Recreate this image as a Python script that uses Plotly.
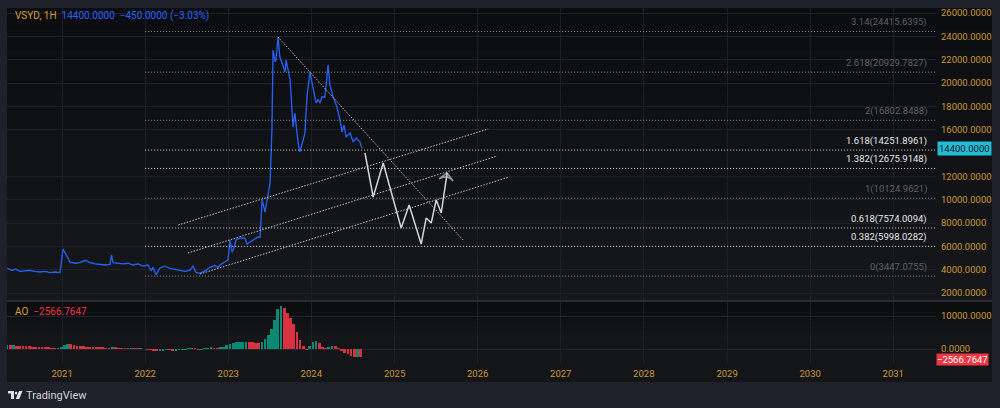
import plotly.graph_objects as go
import pandas as pd

W, H = 1000, 408
def px(x): return x / W
def py(y): return 1 - y / H

# ---------------- data ----------------
symbol = "VSYD, 1H"
last_price = 14400.0
change_abs = -450.0
change_pct = -3.03
ao_last = -2566.7647

price_dates = [
    "2020-05-04", "2020-05-25", "2020-06-12", "2020-06-30", "2020-07-22", "2020-08-13",
    "2020-09-04", "2020-09-26", "2020-10-18", "2020-11-09", "2020-12-01", "2020-12-23",
    "2021-01-05", "2021-01-18", "2021-02-05", "2021-02-27", "2021-03-21", "2021-04-12",
    "2021-05-04", "2021-05-26", "2021-06-17", "2021-07-09", "2021-07-31", "2021-08-06",
    "2021-08-13", "2021-09-04", "2021-09-26", "2021-10-18", "2021-11-09", "2021-12-01",
    "2021-12-23", "2022-01-14", "2022-01-27", "2022-02-05", "2022-02-18", "2022-03-07",
    "2022-03-29", "2022-04-21", "2022-05-12", "2022-06-03", "2022-06-25", "2022-07-17",
    "2022-07-30", "2022-08-13", "2022-08-30", "2022-09-21", "2022-10-13", "2022-11-04",
    "2022-11-17", "2022-11-26", "2022-12-18", "2022-12-31", "2023-01-09", "2023-01-18",
    "2023-01-27", "2023-02-04", "2023-02-22", "2023-03-16", "2023-03-24", "2023-04-07",
    "2023-04-29", "2023-05-12", "2023-05-21", "2023-05-30", "2023-06-12", "2023-06-25",
    "2023-07-04", "2023-07-12", "2023-07-17", "2023-07-26", "2023-07-30", "2023-08-08",
    "2023-08-16", "2023-09-08", "2023-09-12", "2023-09-30", "2023-10-08", "2023-10-13",
    "2023-10-21", "2023-11-04", "2023-11-12", "2023-11-26", "2023-12-04", "2023-12-13",
    "2023-12-26", "2024-01-08", "2024-01-22", "2024-01-31", "2024-02-08", "2024-02-17",
    "2024-03-01", "2024-03-15", "2024-03-23", "2024-04-06", "2024-04-23", "2024-05-06",
    "2024-05-15", "2024-05-24", "2024-06-02", "2024-06-20", "2024-07-03", "2024-07-16",
    "2024-08-02", "2024-08-11",
]
price_values = [
    4140, 3950, 4050, 3850, 3900, 3950,
    3850, 3800, 3850, 3750, 3800, 3750,
    5770, 5300, 4650, 4550, 4600, 4800,
    4600, 4500, 4450, 4400, 4450, 5260,
    4600, 4550, 4500, 4550, 4400, 4500,
    4300, 4400, 3900, 4200, 3550, 4150,
    4300, 4100, 4000, 3950, 3850, 3950,
    4300, 3750, 3710, 3900, 4200, 4350,
    4200, 4400, 4700, 4830, 6540, 5500,
    5900, 6540, 6700, 6700, 6200, 6370,
    6700, 6800, 6800, 9970, 8940, 10230,
    11430, 15970, 22830, 21800, 21970, 23940,
    22230, 20940, 21970, 20260, 17000, 16230,
    17430, 14860, 14090, 15000, 15710, 18800,
    20940, 19660, 18290, 18600, 18290, 18800,
    18800, 21540, 19830, 18800, 17940, 16830,
    15800, 16400, 15370, 15710, 14940, 15280,
    14940, 14400,
]

# hand-drawn projection (zig-zag path with arrow)
proj_dates = ["2024-08-24", "2024-09-29", "2024-11-12", "2025-01-30", "2025-03-06",
              "2025-04-28", "2025-05-20", "2025-06-11", "2025-07-03", "2025-07-25", "2025-08-20"]
proj_values = [14000, 10230, 13140, 7570, 9540, 6200, 8430, 8000, 9970, 8860, 12290]

# trend lines
down_dates = ["2023-08-08", "2025-10-29"]
down_values = [23940, 6540]
chan_upper_dates = ["2022-05-26", "2026-02-16"]
chan_upper_values = [7826, 16056]
chan_mid_dates = ["2022-07-08", "2026-03-28"]
chan_mid_values = [5426, 13741]
chan_low_dates = ["2022-08-30", "2026-05-19"]
chan_low_values = [3625, 11941]

# Fibonacci extension levels
fib_ratios = ["3.14", "2.618", "2", "1.618", "1.382", "1", "0.618", "0.382", "0"]
fib_prices = [24415.6395, 20929.7827, 16802.8488, 14251.8961, 12675.9148,
              10124.9621, 7574.0094, 5998.0282, 3447.0755]
fib_bright = [False, False, False, True, True, False, True, True, False]
fib_start = "2022-01-01"

# Awesome Oscillator (bi-weekly bars)
ao_start = "2020-05-04"
ao_values = [
    1200, 1150, 1200, 1050, 1000, 950, 900, 800, 750, 700,
    600, 550, 450, 400, 300, 250, 300, 700, 1300, 1600,
    1400, 1100, 900, 850, 800, 750, 700, 600, 500, 450,
    350, 300, 250, 400, 350, 300, 250, 200, 150, 150,
    100, 50, 50, 0, -100, -250, -450, -650, -600, -350,
    -200, -250, -400, -350, -200, -150, -50, 50, 100, 50,
    -100, -50, 100, 250, 350, 300, 250, 400, 700, 1100,
    1500, 1800, 2000, 2100, 2200, 2200, 2100, 2000, 1800, 1700,
    2200, 3000, 4200, 6000, 8800, 12000, 13000, 12300, 11000, 9300,
    7500, 5200, 2800, 900, -200, 800, 2000, 2500, 1800, 700,
    100, 600, 1000, 900, 300, -400, -1100, -1600, -2000, -2400,
    -2300, -2567,
]

x_range = ["2020-05-04", "2031-07-08"]
# 14000 sits under the last-price badge, so it is not drawn as a tick
y_ticks = [v for v in range(2000, 26001, 2000) if v != 14000]
ao_ticks = [0, 10000]

# ---------------- styles ----------------
FONT = "Roboto, 'Open Sans', sans-serif"
GOLD = "#c9993c"
GRID = "#1d2027"
BLUE = "#2962ff"
GREEN = "#0a8a74"
RED = "#d8313f"

fig = go.Figure()

# price
fig.add_trace(go.Scatter(x=price_dates, y=price_values, mode="lines",
                         line=dict(color=BLUE, width=1.3), xaxis="x", yaxis="y",
                         hoverinfo="skip", showlegend=False))

# fib lines
for r, p, b in zip(fib_ratios, fib_prices, fib_bright):
    fig.add_trace(go.Scatter(x=[fib_start, x_range[1]], y=[p, p], mode="lines",
                             line=dict(color="#d1d4dc" if b else "#8a8d96", width=1, dash="1px,2px"),
                             xaxis="x", yaxis="y", hoverinfo="skip", showlegend=False))
    fig.add_annotation(x=px(929), xref="paper", y=p, yref="y", xanchor="right", yanchor="bottom",
                       yshift=1, showarrow=False, text=f"{r}({p:.4f})",
                       font=dict(family=FONT, size=9.5, color="#e6e8ec" if b else "#5d606b"))

# trend lines
for dts, vals, col in [(down_dates, down_values, "#b8bbc4"),
                       (chan_upper_dates, chan_upper_values, "#c0c3cc"),
                       (chan_mid_dates, chan_mid_values, "#c0c3cc"),
                       (chan_low_dates, chan_low_values, "#c0c3cc")]:
    fig.add_trace(go.Scatter(x=dts, y=vals, mode="lines",
                             line=dict(color=col, width=1, dash="1.5px,1.5px"),
                             xaxis="x", yaxis="y", hoverinfo="skip", showlegend=False))

# projection with open arrow head on the last point
fig.add_trace(go.Scatter(x=proj_dates, y=proj_values, mode="lines+markers",
                         line=dict(color="#d1d4dc", width=1.5),
                         marker=dict(symbol="arrow-wide-open", angleref="previous",
                                     size=[0] * (len(proj_values) - 1) + [10],
                                     color="#d1d4dc", line=dict(color="#d1d4dc", width=1.5)),
                         xaxis="x", yaxis="y", hoverinfo="skip", showlegend=False))

# AO bars
ao_dates = pd.date_range(ao_start, periods=len(ao_values), freq="14D")
ao_colors = [GREEN if (i == 0 or v >= ao_values[i - 1]) else RED for i, v in enumerate(ao_values)]
fig.add_trace(go.Bar(x=ao_dates, y=ao_values, marker=dict(color=ao_colors, line=dict(width=0)),
                     width=12 * 86400000, xaxis="x2", yaxis="y2",
                     hoverinfo="skip", showlegend=False))

# ---------------- backgrounds ----------------
shapes = []
shapes.append(dict(type="rect", xref="paper", yref="paper", x0=px(7), x1=px(992),
                   y0=py(382), y1=py(8), fillcolor="#131519", line=dict(width=0), layer="below"))

def gradient(top, bottom, c_top, c_bot, n=14):
    def hx(c): return [int(c[i:i + 2], 16) for i in (1, 3, 5)]
    a, b = hx(c_top), hx(c_bot)
    h = (bottom - top) / n
    for k in range(n):
        t = k / (n - 1)
        col = "#%02x%02x%02x" % tuple(int(round(a[j] + (b[j] - a[j]) * t)) for j in range(3))
        shapes.append(dict(type="rect", xref="paper", yref="paper", x0=px(7), x1=px(992),
                           y0=py(top + h * (k + 1) + 0.5), y1=py(top + h * k),
                           fillcolor=col, line=dict(width=0), layer="below"))

gradient(8, 300, "#0c0d10", "#15171b")
gradient(302, 340, "#0b0c0e", "#141619", n=8)
shapes.append(dict(type="rect", xref="paper", yref="paper", x0=px(7), x1=px(992),
                   y0=py(302), y1=py(300), fillcolor="#292c34", line=dict(width=0), layer="below"))
# TradingView logo
shapes.append(dict(type="path", xref="paper", yref="paper",
                   path=f"M{px(8)},{py(391)} L{px(14)},{py(391)} L{px(14)},{py(399)} L{px(11)},{py(399)} "
                        f"L{px(11)},{py(393.6)} L{px(8)},{py(393.6)} Z",
                   fillcolor="#e0e3eb", line=dict(width=0)))
shapes.append(dict(type="circle", xref="paper", yref="paper",
                   x0=px(14.8), x1=px(17.4), y0=py(394.4), y1=py(391.8),
                   fillcolor="#e0e3eb", line=dict(width=0)))
shapes.append(dict(type="path", xref="paper", yref="paper",
                   path=f"M{px(19)},{py(391)} L{px(22.5)},{py(391)} L{px(19.2)},{py(399)} L{px(15.8)},{py(399)} Z",
                   fillcolor="#e0e3eb", line=dict(width=0)))

# ---------------- annotations ----------------
ann = []
ann.append(dict(x=px(13), y=py(16), xref="paper", yref="paper", xanchor="left", yanchor="middle",
                showarrow=False,
                text=(f"<span style='color:#d19e3c'>{symbol}</span>&nbsp;&nbsp;"
                      f"<span style='color:{BLUE}'>{last_price:.4f}&nbsp;&nbsp;"
                      f"\u2212{abs(change_abs):.4f} (\u2212{abs(change_pct):.2f}%)</span>"),
                font=dict(family=FONT, size=10)))
ann.append(dict(x=px(13), y=py(311), xref="paper", yref="paper", xanchor="left", yanchor="middle",
                showarrow=False,
                text=(f"<span style='color:#d19e3c'>AO</span>&nbsp;&nbsp;"
                      f"<span style='color:#f23645'>\u2212{abs(ao_last):.4f}</span>"),
                font=dict(family=FONT, size=10)))
ann.append(dict(x=px(937), y=last_price, xref="paper", yref="y", xanchor="left", yanchor="middle",
                showarrow=False, text=f"{last_price:.4f}", bgcolor="#22bcd6", borderpad=1,
                font=dict(family=FONT, size=9.5, color="#131722")))
ann.append(dict(x=px(936), y=ao_last, xref="paper", yref="y2", xanchor="left", yanchor="middle",
                yshift=-2, showarrow=False, text=f"\u2212{abs(ao_last):.4f}", bgcolor="#f23645",
                borderpad=0, font=dict(family=FONT, size=9.5, color="#ffffff")))
ann.append(dict(x=px(24), y=py(395), xref="paper", yref="paper", xanchor="left", yanchor="middle",
                showarrow=False, text="TradingView",
                font=dict(family=FONT, size=11, color="#d1d4dc")))

for a in ann:
    fig.add_annotation(**a)

fig.update_layout(
    width=W, height=H,
    margin=dict(l=0, r=0, t=0, b=0),
    paper_bgcolor="#1e212a",
    plot_bgcolor="rgba(0,0,0,0)",
    shapes=shapes,
    bargap=0,
    xaxis=dict(domain=[px(7), px(936)], range=x_range, type="date", anchor="y",
               showticklabels=False, showgrid=True, gridcolor=GRID, gridwidth=1,
               tick0="2021-01-01", dtick="M12", zeroline=False, showline=False, ticks=""),
    yaxis=dict(domain=[py(300), py(8)], range=[1400, 26429], side="right", anchor="x",
               tickvals=y_ticks, tickformat=".4f", showgrid=True, gridcolor=GRID,
               zeroline=False, showline=False, ticks="", ticklabelstandoff=4,
               tickfont=dict(family=FONT, size=9.5, color=GOLD)),
    xaxis2=dict(domain=[px(7), px(936)], range=x_range, type="date", anchor="y2", matches="x",
                showgrid=True, gridcolor=GRID, tick0="2021-01-01", dtick="M12", tickformat="%Y",
                zeroline=False, showline=False, ticks="", ticklabelstandoff=3,
                tickfont=dict(family=FONT, size=9.5, color=GOLD)),
    yaxis2=dict(domain=[py(363), py(302)], range=[-4242, 14242], side="right", anchor="x2",
                tickvals=ao_ticks, tickformat=".4f", showgrid=True, gridcolor="#22252c",
                zeroline=False, showline=False, ticks="", ticklabelstandoff=4,
                tickfont=dict(family=FONT, size=9.5, color=GOLD)),
)

fig.write_html("out.html")
